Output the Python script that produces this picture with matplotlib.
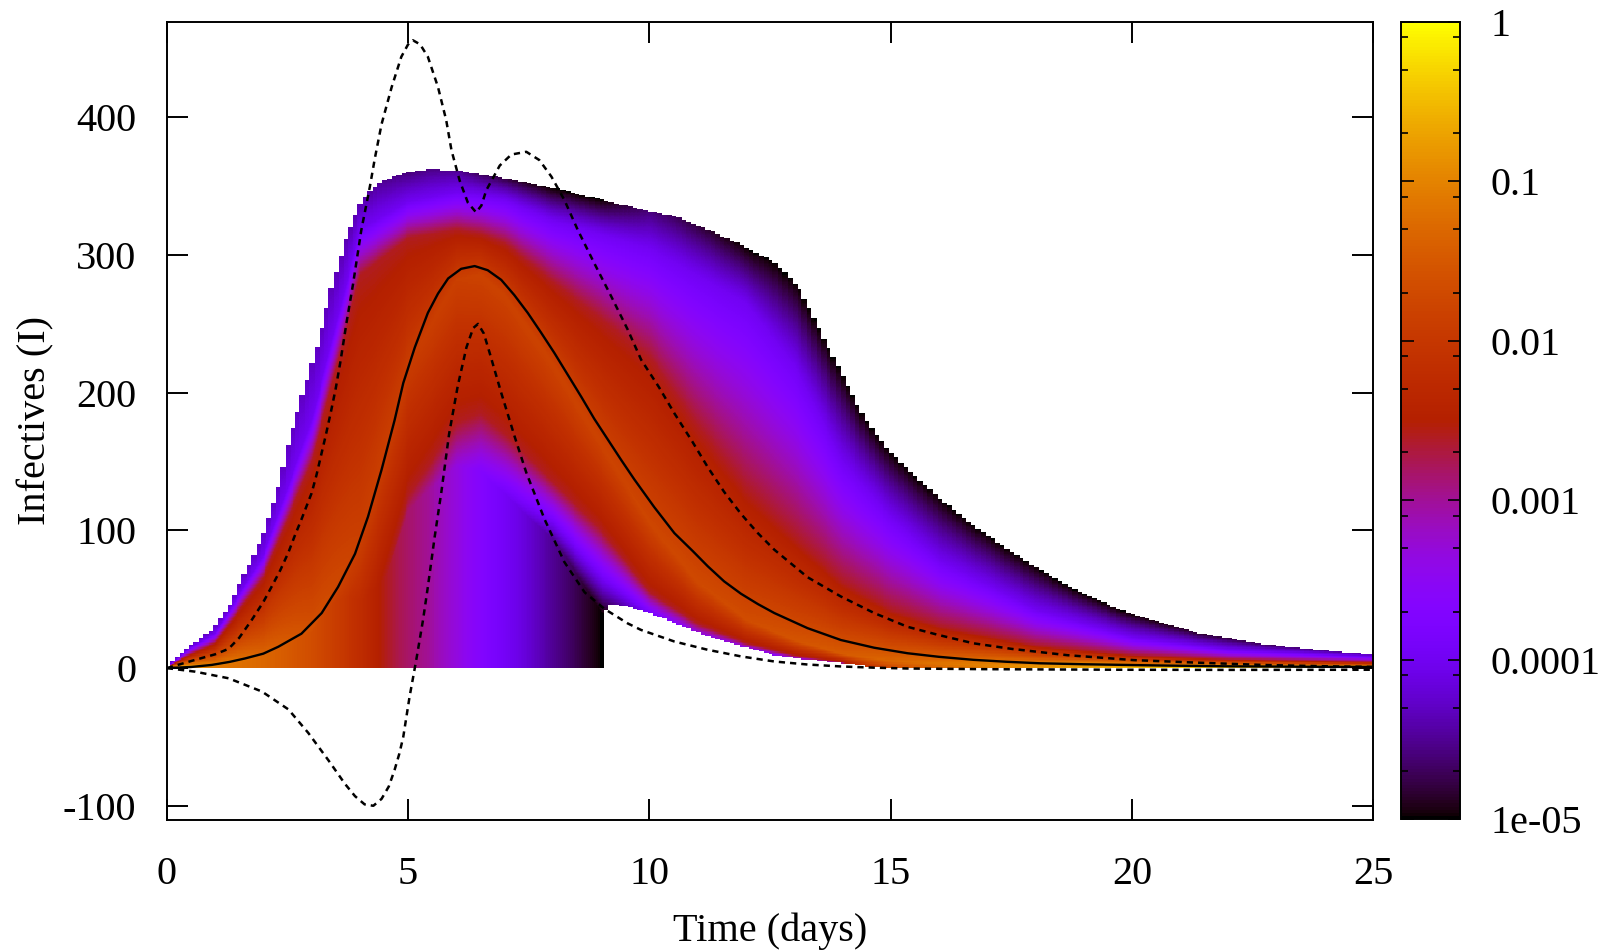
import numpy as np
import matplotlib
matplotlib.use('Agg')
import matplotlib.pyplot as plt
import matplotlib.ticker as mticker
from matplotlib.colors import LogNorm

plt.rcParams['font.family'] = ['Liberation Serif', 'DejaVu Serif']
plt.rcParams['axes.unicode_minus'] = False

# ---- curves ----
# mean (solid)
t_mean = [0, 0.5, 0.93, 1.3, 1.62, 2.0, 2.31, 2.79, 3.21, 3.55, 3.9, 4.17, 4.45, 4.72, 4.9,
          5.14, 5.41, 5.62, 5.83, 6.1, 6.38, 6.65, 6.93, 7.2, 7.48, 7.75, 8.03, 8.31, 8.59,
          8.86, 9.14, 9.42, 9.69, 10.1, 10.52, 10.9, 11.21, 11.55, 11.9, 12.25, 12.59, 13.28,
          13.97, 14.66, 15.35, 16.0, 16.72, 17.4, 18.1, 19.0, 20.04, 21.0, 22.0, 23.5, 25.0]
I_mean = [0, 0.8, 2.3, 4.5, 7, 10.5, 15.5, 25, 40, 59, 83, 110, 144, 180, 207,
          233, 258, 272, 283, 290, 292, 289, 282, 271, 258, 244, 229, 213, 197,
          181, 166, 151, 137, 117, 98, 85, 74, 63, 54, 46.5, 40, 29,
          20.4, 14.8, 10.8, 8.2, 6, 4.6, 3.5, 2.8, 2.2, 1.7, 1.3, 1.0, 0.8]

# upper dashed
t_up = [0, 0.59, 1.0, 1.28, 1.5, 1.76, 2.0, 2.17, 2.35, 2.52, 2.65, 2.79, 2.9, 3.0, 3.1, 3.2,
        3.3, 3.4, 3.5, 3.6, 3.72, 3.86, 4.03, 4.21, 4.31, 4.45, 4.66, 4.86, 5.0, 5.1, 5.25,
        5.41, 5.62, 5.79, 5.9, 6.07, 6.24, 6.41, 6.52, 6.62, 6.9, 7.14, 7.45, 7.72, 7.97,
        8.24, 8.52, 8.86, 9.21, 9.55, 9.83, 10.2, 10.52, 10.9, 11.21, 11.55, 11.9, 12.25,
        12.59, 13.28, 13.97, 14.66, 15.35, 16.0, 16.72, 17.5, 18.66, 20.04, 21.4, 22.8,
        24.2, 25.0]
I_up = [0, 6, 10, 14, 22, 35, 48, 59, 71, 84, 96, 108, 118, 127, 140, 155,
        170, 186, 203, 223, 250, 279, 318, 350, 370, 395, 422, 444, 453, 456, 453,
        444, 422, 398, 376, 354, 338, 331, 336, 347, 365, 373, 375, 369, 357,
        340, 318, 294, 270, 246, 224, 204, 185, 164, 146, 128, 112, 98,
        86, 66, 52, 40, 30, 24, 18, 14, 9.4, 5.8, 3.9, 2.2,
        1.2, 0.9]

# lower dashed
t_lo = [0, 0.59, 1.28, 1.97, 2.52, 2.93, 3.35, 3.69, 3.9, 4.1, 4.28, 4.45, 4.6, 4.72, 4.82,
        4.9, 5.03, 5.17, 5.31, 5.41, 5.55, 5.69, 5.85, 6.03, 6.21, 6.35, 6.45, 6.57, 6.69,
        6.93, 7.21, 7.45, 7.83, 8.24, 8.66, 9.07, 9.3, 9.55, 9.83, 10.52, 11.21, 11.9,
        12.59, 13.28, 13.97, 14.66, 15.35, 17.0, 19.76, 22.0, 25.0]
I_lo = [0, -2.6, -7.4, -17, -30, -47, -67, -84, -93, -99, -100, -95, -86, -74, -62,
        -50, -21, 6, 35, 59, 95, 128, 170, 205, 233, 247, 250, 243, 229,
        200, 168, 142, 108, 77, 55, 43, 38, 32.5, 27.7, 19.3, 13.3, 8.5,
        4.8, 2.6, 1.2, 0.3, -0.3, -0.8, -1.2, -1.3, -1.2]

# edges of the shaded probability region
t_top = [0, 0.1, 0.3, 0.59, 0.93, 1.28, 1.62, 1.97, 2.31, 2.52, 2.65, 3.07, 3.41, 3.72, 4.03,
         4.38, 4.86, 5.41, 6.1, 6.79, 7.48, 8.17, 8.86, 9.83, 10.52, 11.21, 11.9, 12.59,
         13.07, 13.41, 13.69, 13.97, 14.31, 14.66, 15.0, 15.35, 16.04, 16.72, 17.42, 18.1,
         18.79, 19.76, 20.5, 21.4, 22.8, 24.17, 25.0]
I_top = [0, 5, 11, 19, 28, 45, 69, 95, 132, 165, 180, 229, 277, 313, 340,
         352, 359, 362, 360.5, 357, 352, 347, 341, 332.7, 327.8, 318, 307, 294,
         277, 253, 233, 214, 190, 170.5, 156, 144, 122, 103, 86, 71,
         57, 42, 34, 25.3, 16.9, 12, 10]
t_bot = [0, 9.02, 9.021, 9.1, 9.2, 9.6, 9.83, 10.52, 11.21, 11.9, 12.59, 13.28, 13.97, 14.5, 15.0, 25.0]
I_bot = [0, 0, 35, 42, 46, 44.5, 42, 32.5, 22.7, 15.5, 9.4, 6, 3.5, 1.5, 0, 0]

# colour profile of each column (log10 probability)
t_dens = [0, 0.5, 1, 2, 3, 4, 5, 6, 6.5, 7, 8, 9, 10, 11, 12, 13, 14, 15, 16, 18, 20, 22, 25]
mode_I = [0, 0.5, 1.5, 8, 28, 95, 220, 282, 285, 270, 220, 162, 105, 62, 35, 20, 10, 5, 3, 1, 0.5, 0.5, 0.3]
peak_log = [-0.3, -0.7, -1.0, -1.3, -1.6, -1.85, -1.9, -1.85, -1.8, -1.8, -1.8, -1.8, -1.75, -1.7,
            -1.65, -1.55, -1.45, -1.3, -1.15, -0.8, -0.5, -0.4, -0.5]
up26_I = [0.5, 10, 18, 66, 150, 285, 312, 318, 315, 308, 280, 253, 225, 175, 130, 95, 62, 42, 30, 16, 9, 6, 4]
up40_I = [0.8, 15, 25, 82, 180, 318, 338, 345, 343, 340, 325, 315, 305, 285, 265, 220, 150, 110, 78, 42, 22, 13, 8]
top_log = [-4.3, -4.3, -4.3, -4.3, -4.3, -4.4, -4.6, -4.5, -4.7, -4.8, -5, -5, -4.6, -4.8, -5, -5, -5, -5, -5, -5, -5, -4.8, -4.4]
lo26_I = [-5, -5, -5, -5, -5, -5, 125, 178, 185, 170, 135, 100, 55, 32, 18, 9, 4, -10, -20, -30, -30, -30, -30]
lo40_I = [-15, -15, -15, -15, -15, -15, 60, 120, 130, 125, 105, 65, 38, 20, 12, 5, 1.5, -20, -30, -40, -40, -40, -40]
floor_t = [0, 0.5, 1, 2, 3, 3.5, 4, 4.4, 4.8, 5.4, 6.0, 6.7, 7.3, 7.8, 8.5, 9.0, 9.02]
floor_log = [-0.5, -0.9, -1.1, -1.3, -1.65, -1.9, -2.2, -2.5, -2.75, -3.0, -3.35, -3.8, -4.1, -4.4,
             -4.75, -5.0, -5.0]

cb_ticks = [1e-5, 1e-4, 1e-3, 1e-2, 1e-1, 1]
cb_labels = ['1e-05', '0.0001', '0.001', '0.01', '0.1', '1']
cb_minor = [m * 10.0 ** k for k in range(-5, 0) for m in (2, 5, 8)]


def ramp(y, y0, y1, v0, v1):
    f = np.clip((y - y0) / np.maximum(y1 - y0, 1e-6), 0, 1)
    return v0 + f * (v1 - v0)


# build the raster: columns of 0.02 days, rows of 1 infective
nt, ni = 1250, 470
tc = (np.arange(nt) + 0.5) * 25.0 / nt
yc = np.arange(ni) + 0.5
tq = np.round(tc / 0.1) * 0.1
Y = yc[:, None]
col = lambda arr: np.interp(tc, t_dens, arr)[None, :]
mode, peak = col(mode_I), col(peak_log)
up26, up40, tlog = col(up26_I), col(up40_I), col(top_log)
lo26, lo40 = col(lo26_I), col(lo40_I)
top = np.interp(tq, t_top, I_top)[None, :]
bot = np.interp(tq, t_bot, I_bot)[None, :]

upper = np.where(Y < up26, ramp(Y, mode, up26, peak, -2.6),
                 np.where(Y < up40, ramp(Y, up26, up40, -2.6, -4.0),
                          ramp(Y, up40, top, -4.0, tlog)))
lower = np.where(Y > lo26, ramp(Y, lo26, mode, -2.6, peak),
                 -2.6 - (lo26 - Y) * 1.4 / np.maximum(lo26 - lo40, 1e-6))
floor = np.where(tc < 9.02, np.interp(tc, floor_t, floor_log), -99)[None, :]
lower = np.maximum(lower, floor)
dens = np.where(Y >= mode, upper, lower)
dens = np.clip(dens, -5, 0)
dens = np.where((Y > top) | (Y < bot), np.nan, dens)
prob = np.ma.masked_invalid(10.0 ** dens)

fig = plt.figure(figsize=(16.15, 9.51), dpi=100)
ax = fig.add_axes([0.1033, 0.1375, 0.7469, 0.8397])

cmap = plt.get_cmap('gnuplot').copy()
cmap.set_bad((1, 1, 1, 0))
im = ax.imshow(prob, extent=(0, 25, 0, ni), origin='lower', aspect='auto',
               cmap=cmap, norm=LogNorm(1e-5, 1), interpolation='nearest', zorder=1)

ax.plot(t_mean, I_mean, color='black', lw=1.7, zorder=3)
ax.plot(t_up, I_up, color='black', lw=1.8, ls=(0, (2.5, 2)), zorder=3)
ax.plot(t_lo, I_lo, color='black', lw=1.8, ls=(0, (2.5, 2)), zorder=3)

ax.set_xlim(0, 25)
ax.set_ylim(-110.5, 469.5)
ax.set_xticks([0, 5, 10, 15, 20, 25])
ax.set_yticks([-100, 0, 100, 200, 300, 400])
ax.tick_params(direction='in', length=15, width=1.4, top=True, right=True, labelsize=29)
ax.tick_params(axis='x', pad=26)
ax.tick_params(axis='y', pad=22)
for s in ax.spines.values():
    s.set_linewidth(1.4)
ax.set_xlabel('Time (days)', fontsize=29, labelpad=14)
ax.set_ylabel('Infectives (I)', fontsize=29, labelpad=6)

cax = fig.add_axes([0.8678, 0.1388, 0.0362, 0.8384])
cb = fig.colorbar(im, cax=cax)
cb.set_ticks(cb_ticks, labels=cb_labels)
cb.set_ticks(cb_minor, minor=True)
cax.yaxis.set_minor_formatter(mticker.NullFormatter())
cax.tick_params(which='both', direction='in', left=True, right=True, width=1.2,
                labelsize=29, pad=22)
cax.tick_params(which='major', length=9)
cax.tick_params(which='minor', length=5)
cb.outline.set_linewidth(1.4)

fig.savefig('out.png', dpi=100)
